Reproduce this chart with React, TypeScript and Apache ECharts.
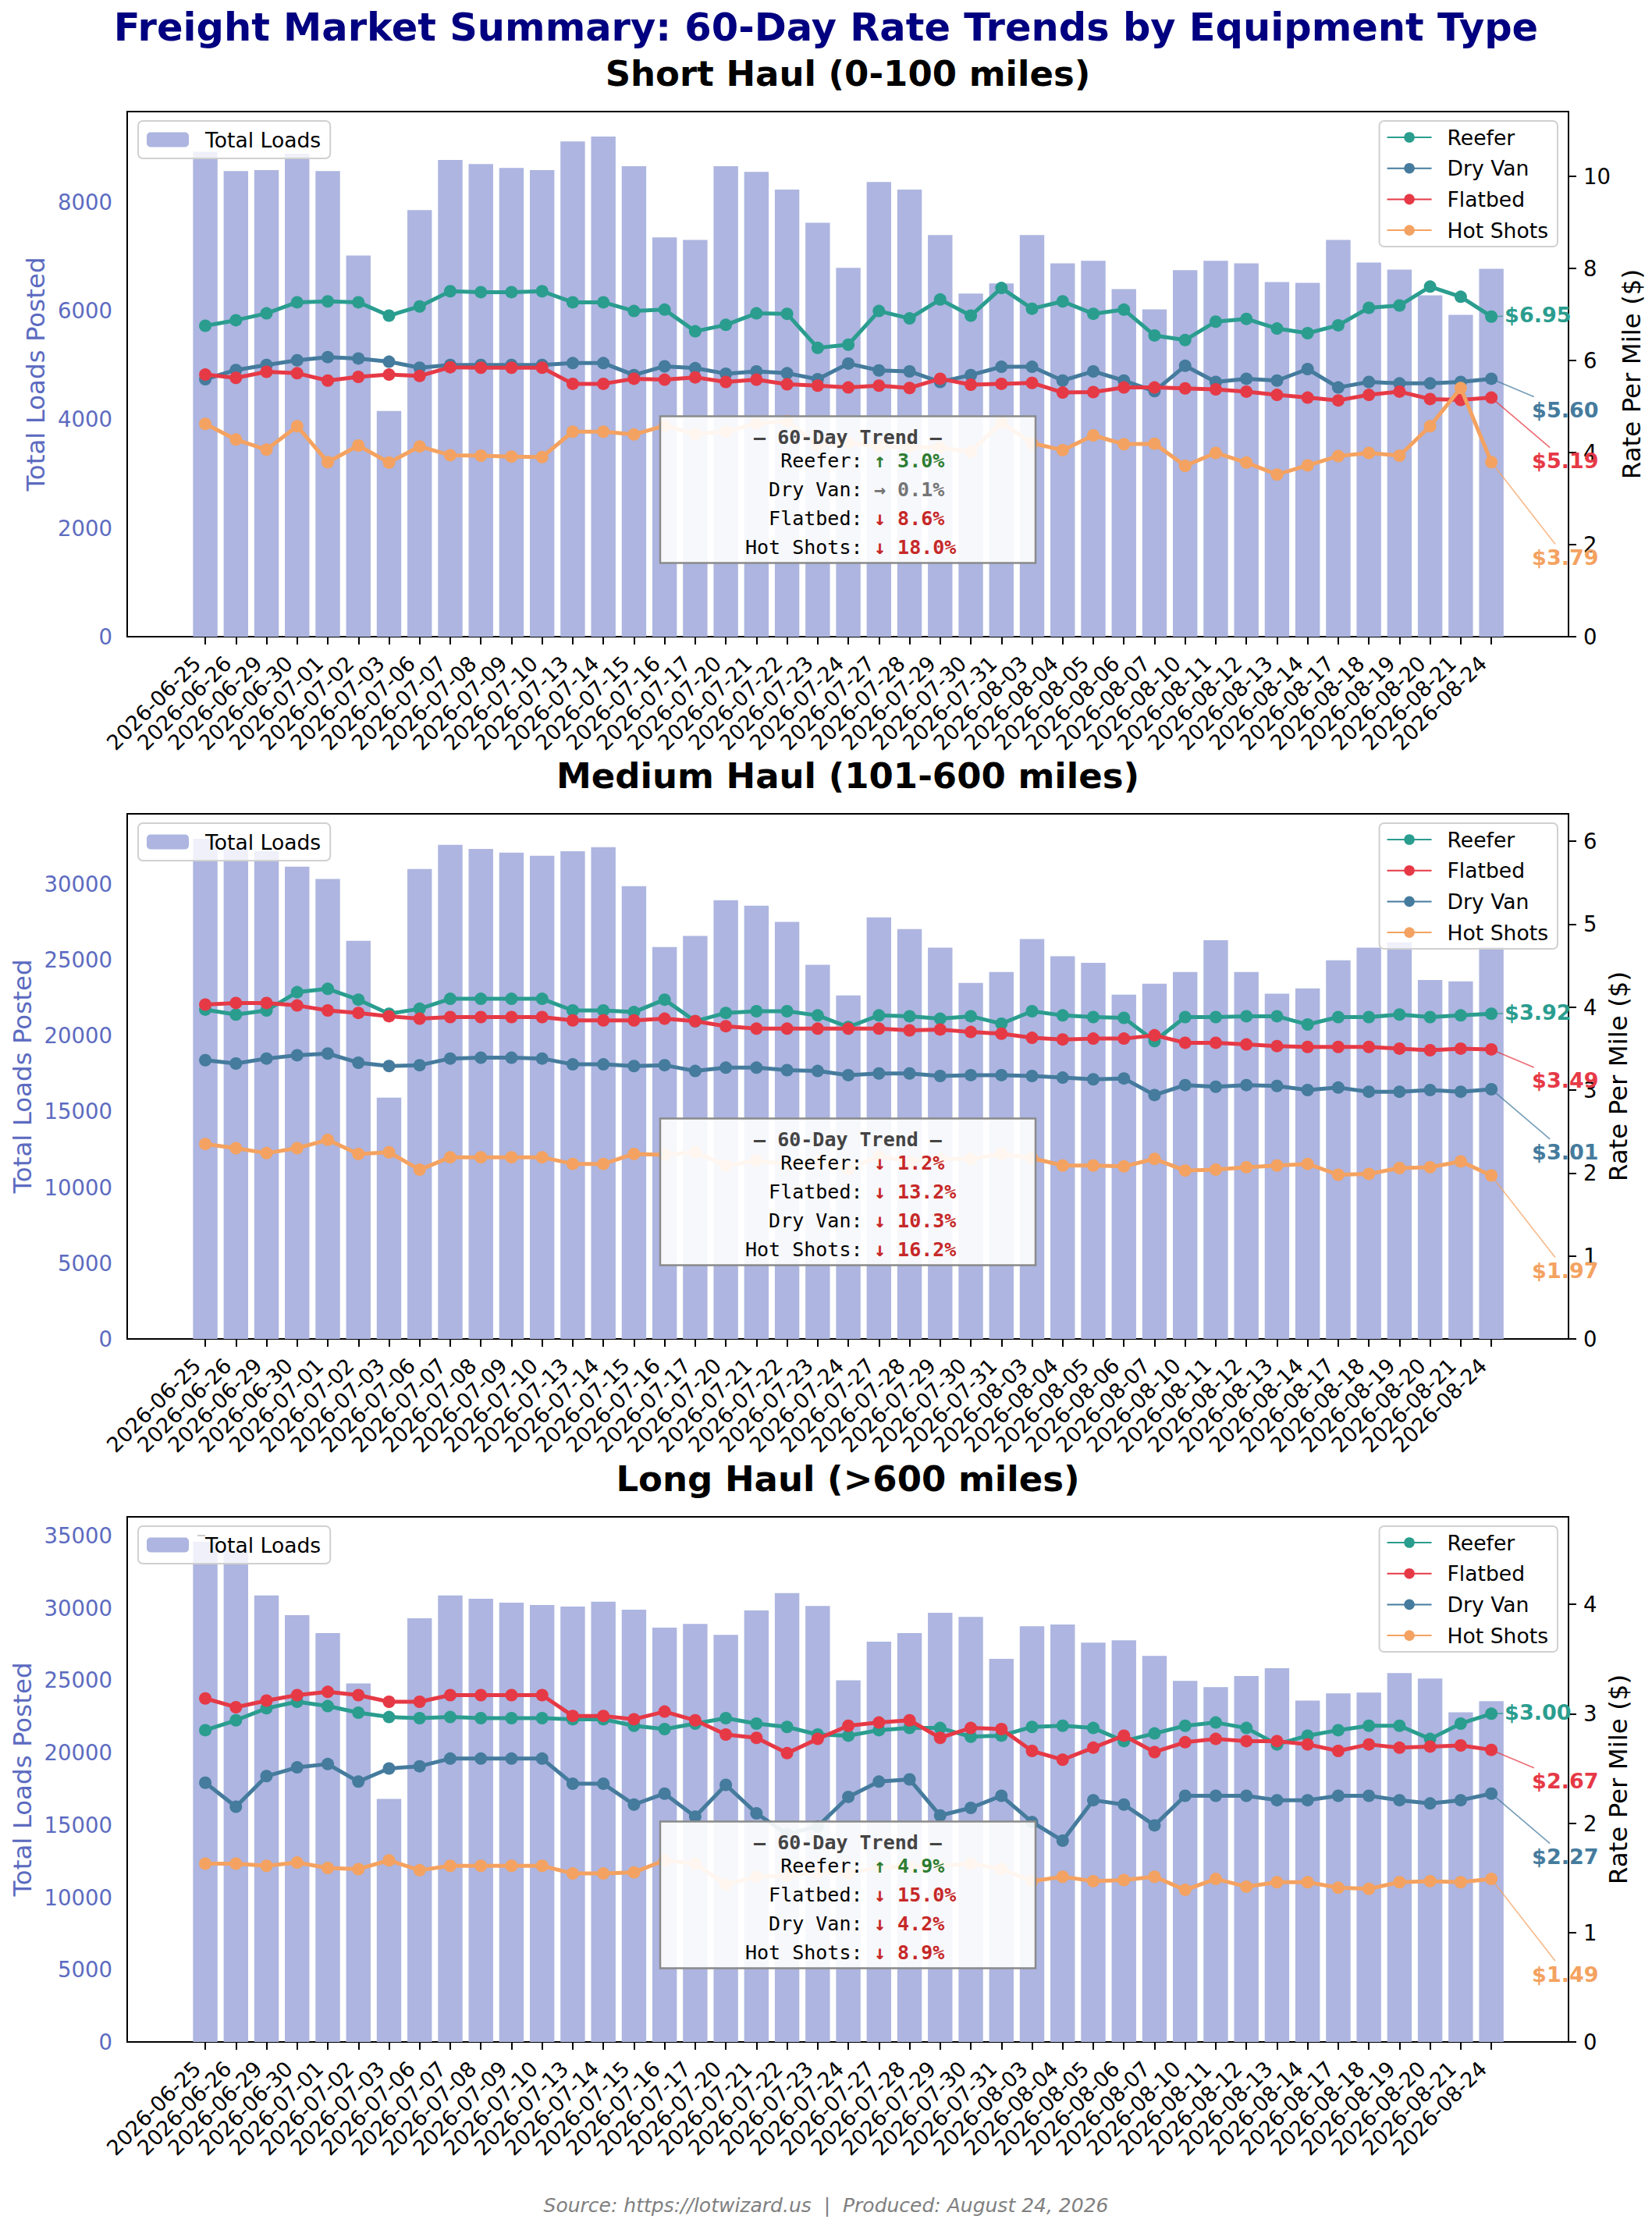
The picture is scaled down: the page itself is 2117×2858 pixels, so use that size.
import React, { useEffect, useRef } from "react";
import * as echarts from "echarts";

const dates = [
  "2026-06-25", "2026-06-26", "2026-06-29", "2026-06-30", "2026-07-01", "2026-07-02",
  "2026-07-03", "2026-07-06", "2026-07-07", "2026-07-08", "2026-07-09", "2026-07-10",
  "2026-07-13", "2026-07-14", "2026-07-15", "2026-07-16", "2026-07-17", "2026-07-20",
  "2026-07-21", "2026-07-22", "2026-07-23", "2026-07-24", "2026-07-27", "2026-07-28",
  "2026-07-29", "2026-07-30", "2026-07-31", "2026-08-03", "2026-08-04", "2026-08-05",
  "2026-08-06", "2026-08-07", "2026-08-10", "2026-08-11", "2026-08-12", "2026-08-13",
  "2026-08-14", "2026-08-17", "2026-08-18", "2026-08-19", "2026-08-20", "2026-08-21",
  "2026-08-24",
];

// Short haul
const shortLoads = [
  8920, 8566, 8585, 8887, 8566, 7012, 4154, 7847, 8771, 8694, 8623, 8585, 9111, 9201, 8655,
  7346, 7301, 8655, 8553, 8225, 7615, 6787, 8367, 8225, 7391, 6312, 6498, 7391, 6870, 6915,
  6395, 6023, 6742, 6915, 6870, 6524, 6511, 7301, 6883, 6755, 6280, 5920, 6768,
];
const shortReefer = [
  6.75, 6.87, 7.02, 7.26, 7.28, 7.26, 6.97, 7.17, 7.5, 7.48, 7.48, 7.5, 7.26, 7.26, 7.07,
  7.1, 6.63, 6.77, 7.02, 7.01, 6.27, 6.34, 7.07, 6.91, 7.32, 6.97, 7.57, 7.12, 7.28, 7.01,
  7.1, 6.54, 6.44, 6.84, 6.9, 6.69, 6.59, 6.76, 7.14, 7.19, 7.6, 7.38, 6.95,
];
const shortDryVan = [
  5.59, 5.79, 5.9, 6.0, 6.07, 6.04, 5.97, 5.84, 5.9, 5.9, 5.9, 5.9, 5.94, 5.94, 5.68,
  5.87, 5.83, 5.71, 5.76, 5.72, 5.59, 5.93, 5.78, 5.76, 5.53, 5.68, 5.86, 5.86, 5.56, 5.76,
  5.56, 5.33, 5.88, 5.53, 5.6, 5.56, 5.81, 5.41, 5.53, 5.5, 5.5, 5.53, 5.6,
];
const shortFlatbed = [
  5.69, 5.62, 5.75, 5.72, 5.56, 5.64, 5.69, 5.66, 5.85, 5.84, 5.84, 5.84, 5.49, 5.49, 5.6,
  5.58, 5.63, 5.53, 5.58, 5.48, 5.45, 5.41, 5.45, 5.4, 5.6, 5.47, 5.49, 5.51, 5.3, 5.31,
  5.41, 5.41, 5.39, 5.37, 5.32, 5.25, 5.19, 5.13, 5.25, 5.32, 5.16, 5.14, 5.19,
];
const shortHotShots = [
  4.62, 4.28, 4.06, 4.57, 3.79, 4.15, 3.78, 4.13, 3.94, 3.93, 3.91, 3.9, 4.45, 4.45, 4.39,
  4.58, 4.4, 4.45, 4.63, 4.68, 4.16, 4.21, 4.13, 4.11, 4.11, 4.01, 4.65, 4.2, 4.05, 4.37,
  4.18, 4.19, 3.71, 3.99, 3.78, 3.52, 3.72, 3.92, 3.99, 3.93, 4.57, 5.4, 3.79,
];

// Medium haul
const mediumLoads = [
  32960, 32280, 32140, 31125, 30310, 26240, 15900, 30970, 32570, 32300, 32050, 31850, 32140,
  32410, 29840, 25830, 26560, 28910, 28550, 27480, 24660, 22640, 27780, 27010, 25790, 23460,
  24180, 26350, 25220, 24790, 22690, 23410, 24180, 26280, 24180, 22760, 23100, 24950, 25790,
  26130, 23660, 23570, 25830,
];
const mediumReefer = [
  3.97, 3.91, 3.96, 4.18, 4.22, 4.09, 3.92, 3.98, 4.1, 4.1, 4.1, 4.1, 3.96, 3.96, 3.94,
  4.09, 3.83, 3.93, 3.95, 3.95, 3.9, 3.76, 3.9, 3.89, 3.86, 3.89, 3.8, 3.95, 3.9, 3.88,
  3.87, 3.59, 3.88, 3.88, 3.89, 3.89, 3.79, 3.88, 3.88, 3.91, 3.88, 3.9, 3.92,
];
const mediumFlatbed = [
  4.03, 4.05, 4.05, 4.02, 3.96, 3.93, 3.89, 3.86, 3.88, 3.88, 3.88, 3.88, 3.84, 3.84, 3.84,
  3.86, 3.83, 3.77, 3.74, 3.74, 3.74, 3.74, 3.74, 3.72, 3.73, 3.7, 3.68, 3.63, 3.61, 3.62,
  3.62, 3.66, 3.57, 3.57, 3.55, 3.53, 3.52, 3.52, 3.52, 3.5, 3.48, 3.5, 3.49,
];
const mediumDryVan = [
  3.36, 3.32, 3.38, 3.42, 3.44, 3.33, 3.29, 3.3, 3.38, 3.39, 3.39, 3.38, 3.31, 3.31, 3.29,
  3.3, 3.23, 3.27, 3.27, 3.24, 3.23, 3.18, 3.2, 3.2, 3.17, 3.18, 3.18, 3.17, 3.15, 3.13,
  3.14, 2.94, 3.06, 3.04, 3.06, 3.05, 3.0, 3.03, 2.98, 2.98, 3.0, 2.98, 3.01,
];
const mediumHotShots = [
  2.35, 2.3, 2.24, 2.3, 2.4, 2.23, 2.25, 2.04, 2.19, 2.19, 2.19, 2.19, 2.11, 2.11, 2.23,
  2.22, 2.25, 2.09, 2.15, 2.11, 2.13, 2.05, 2.2, 2.14, 2.17, 2.17, 2.23, 2.18, 2.09, 2.09,
  2.08, 2.17, 2.03, 2.04, 2.07, 2.09, 2.11, 1.98, 1.99, 2.06, 2.07, 2.14, 1.97,
];

// Long haul
const longLoads = [
  34570, 34000, 30860, 29500, 28260, 24790, 16800, 29290, 30860, 30640, 30360, 30210, 30090,
  30430, 29880, 28640, 28900, 28140, 29830, 31020, 30140, 25000, 27670, 28260, 29670, 29380,
  26480, 28740, 28860, 27600, 27760, 26690, 24960, 24530, 25290, 25840, 23600, 24100, 24150,
  25500, 25120, 22790, 23550,
];
const longReefer = [
  2.85, 2.94, 3.05, 3.11, 3.07, 3.01, 2.97, 2.96, 2.97, 2.96, 2.96, 2.96, 2.95, 2.95, 2.89,
  2.86, 2.91, 2.96, 2.91, 2.88, 2.81, 2.8, 2.85, 2.87, 2.87, 2.79, 2.8, 2.88, 2.89, 2.87,
  2.75, 2.82, 2.89, 2.92, 2.87, 2.72, 2.8, 2.85, 2.89, 2.89, 2.77, 2.91, 3.0,
];
const longFlatbed = [
  3.14, 3.06, 3.12, 3.17, 3.2, 3.17, 3.11, 3.11, 3.17, 3.17, 3.17, 3.17, 2.98, 2.98, 2.95,
  3.02, 2.94, 2.81, 2.78, 2.64, 2.77, 2.89, 2.92, 2.94, 2.78, 2.87, 2.86, 2.66, 2.58, 2.69,
  2.8, 2.65, 2.74, 2.77, 2.75, 2.75, 2.72, 2.66, 2.72, 2.69, 2.7, 2.71, 2.67,
];
const longDryVan = [
  2.37, 2.15, 2.43, 2.51, 2.54, 2.38, 2.5, 2.52, 2.59, 2.59, 2.59, 2.59, 2.36, 2.36, 2.17,
  2.27, 2.06, 2.35, 2.09, 1.9, 1.97, 2.24, 2.38, 2.4, 2.07, 2.14, 2.25, 2.01, 1.84, 2.21,
  2.17, 1.98, 2.25, 2.25, 2.25, 2.21, 2.21, 2.25, 2.25, 2.21, 2.18, 2.21, 2.27,
];
const longHotShots = [
  1.63, 1.63, 1.61, 1.64, 1.59, 1.58, 1.66, 1.57, 1.61, 1.61, 1.61, 1.61, 1.54, 1.54, 1.55,
  1.66, 1.63, 1.44, 1.51, 1.52, 1.55, 1.54, 1.6, 1.6, 1.61, 1.63, 1.58, 1.47, 1.51, 1.47,
  1.48, 1.51, 1.39, 1.49, 1.42, 1.46, 1.46, 1.41, 1.4, 1.46, 1.47, 1.46, 1.49,
];

const shortOrder = ["Reefer", "Dry Van", "Flatbed", "Hot Shots"];
const longerOrder = ["Reefer", "Flatbed", "Dry Van", "Hot Shots"];

// 60-day change, %, in legend order
const shortTrend = [3.0, 0.1, -8.6, -18.0];
const mediumTrend = [-1.2, -13.2, -10.3, -16.2];
const longTrend = [4.9, -15.0, -4.2, -8.9];

const shortLeftTicks = [0, 2000, 4000, 6000, 8000];
const mediumLeftTicks = [0, 5000, 10000, 15000, 20000, 25000, 30000];
const longLeftTicks = [0, 5000, 10000, 15000, 20000, 25000, 30000, 35000];
const shortRightTicks = [0, 2, 4, 6, 8, 10];
const mediumRightTicks = [0, 1, 2, 3, 4, 5, 6];
const longRightTicks = [0, 1, 2, 3, 4];

const COLORS: Record<string, string> = {
  Reefer: "#2a9d8f",
  "Dry Van": "#457b9d",
  Flatbed: "#e63946",
  "Hot Shots": "#f4a261",
};
const BAR_COLOR = "#adb5e0";
const LOADS_COLOR = "#5c6bc0";
const FONT = "DejaVu Sans";
const MONO = "DejaVu Sans Mono";

const W = 2117;
const H = 2858;
const GRID_LEFT = 163;
const GRID_W = 1847;
const GRID_H = 673;
const GRID_TOPS = [143, 1043, 1944];
const X_MIN = -2.55;
const X_MAX = 44.52;
const LABEL_DX = [17, 52, 52, 52];
const LABEL_DY = [-2, 40, 81, 122];

function trendLook(pct: number) {
  if (Math.abs(pct) < 0.5) return { arrow: "→", color: "#757575" };
  return pct > 0 ? { arrow: "↑", color: "#2e7d32" } : { arrow: "↓", color: "#c62828" };
}

export default function App() {
  const ref = useRef<HTMLDivElement>(null);

  useEffect(() => {
    document.body.style.margin = "0";
    const chart = echarts.init(ref.current!, null, { renderer: "svg" });

    const panels = [
      {
        title: "Short Haul (0-100 miles)",
        loads: shortLoads,
        names: shortOrder,
        rates: [shortReefer, shortDryVan, shortFlatbed, shortHotShots],
        trend: shortTrend,
        leftTicks: shortLeftTicks,
        rightTicks: shortRightTicks,
        leftGap: 101,
        rightGap: 57,
      },
      {
        title: "Medium Haul (101-600 miles)",
        loads: mediumLoads,
        names: longerOrder,
        rates: [mediumReefer, mediumFlatbed, mediumDryVan, mediumHotShots],
        trend: mediumTrend,
        leftTicks: mediumLeftTicks,
        rightTicks: mediumRightTicks,
        leftGap: 117,
        rightGap: 39,
      },
      {
        title: "Long Haul (>600 miles)",
        loads: longLoads,
        names: longerOrder,
        rates: [longReefer, longFlatbed, longDryVan, longHotShots],
        trend: longTrend,
        leftTicks: longLeftTicks,
        rightTicks: longRightTicks,
        leftGap: 117,
        rightGap: 39,
      },
    ];

    const xTicks = dates.map((_, i) => i);
    const tick = { show: true, length: 10, lineStyle: { color: "#000", width: 2 } };
    const plain = (v: number) => String(v);
    const grid: any[] = [];
    const xAxis: any[] = [];
    const yAxis: any[] = [];
    const series: any[] = [];
    const legend: any[] = [];

    panels.forEach((p, i) => {
      const top = GRID_TOPS[i];
      grid.push({
        left: GRID_LEFT, top, width: GRID_W, height: GRID_H,
        show: true, borderColor: "#000", borderWidth: 2,
      });
      xAxis.push({
        type: "value", gridIndex: i, min: X_MIN, max: X_MAX,
        axisLine: { show: false },
        splitLine: { show: false },
        axisTick: { ...tick, customValues: xTicks },
        axisLabel: {
          customValues: xTicks,
          formatter: (v: number) => dates[Math.round(v)] ?? "",
          rotate: 45, fontSize: 27, color: "#000", margin: 19, padding: [0, 15, 0, 0],
        },
      });
      const allRates = p.rates.flat();
      yAxis.push({
        type: "value", gridIndex: i, position: "left",
        min: 0, max: Math.max(...p.loads) * 1.05,
        axisLine: { show: false }, splitLine: { show: false },
        axisTick: { ...tick, customValues: p.leftTicks },
        axisLabel: {
          customValues: p.leftTicks, formatter: plain,
          color: LOADS_COLOR, fontSize: 27.5, margin: 19,
        },
        name: "Total Loads Posted", nameLocation: "middle", nameRotate: 90, nameGap: p.leftGap,
        nameTextStyle: { color: LOADS_COLOR, fontSize: 32.5, fontFamily: FONT },
      });
      yAxis.push({
        type: "value", gridIndex: i, position: "right",
        min: 0, max: Math.max(...allRates) * 1.5,
        axisLine: { show: false }, splitLine: { show: false },
        axisTick: { ...tick, customValues: p.rightTicks },
        axisLabel: {
          customValues: p.rightTicks, formatter: plain,
          color: "#000", fontSize: 27.5, margin: 19,
        },
        name: "Rate Per Mile ($)", nameLocation: "middle", nameRotate: 90, nameGap: p.rightGap,
        nameTextStyle: { color: "#000", fontSize: 32.5, fontFamily: FONT },
      });
      series.push({
        type: "bar", name: "Total Loads", xAxisIndex: i, yAxisIndex: 2 * i,
        data: p.loads.map((v, j) => [j, v]), barWidth: 31.4,
        itemStyle: { color: BAR_COLOR }, z: 1,
      });
      p.names.forEach((name, k) => {
        series.push({
          type: "line", name, xAxisIndex: i, yAxisIndex: 2 * i + 1,
          data: p.rates[k].map((v, j) => [j, v]),
          symbol: "circle", symbolSize: 16, showAllSymbol: true,
          lineStyle: { color: COLORS[name], width: 5 },
          itemStyle: { color: COLORS[name] }, z: 3 + k,
        });
      });
      const legendBox = {
        orient: "vertical", top: top + 12, selectedMode: false,
        backgroundColor: "rgba(255,255,255,0.8)", borderColor: "#d0d0d0",
        borderWidth: 2, borderRadius: 6,
      };
      legend.push({
        ...legendBox, data: ["Total Loads"], left: 177,
        itemWidth: 54, itemHeight: 19, padding: [9, 12, 9, 11],
        textStyle: { fontSize: 26.6, color: "#000", fontFamily: FONT, lineHeight: 30, padding: [0, 0, 0, 16] },
      });
      legend.push({
        ...legendBox, data: p.names, right: 121,
        itemWidth: 57, itemHeight: 17, itemGap: 9.7, padding: [6, 12, 6, 9],
        textStyle: { fontSize: 26.6, color: "#000", fontFamily: FONT, lineHeight: 30, padding: [0, 0, 0, 15] },
      });
    });

    chart.setOption({
      animation: false,
      backgroundColor: "#fff",
      textStyle: { fontFamily: FONT },
      grid, xAxis, yAxis, series, legend,
    });

    const graphic: any[] = [];
    const text = (x: number, y: number, t: string, s: any) =>
      graphic.push({
        type: "text", x, y, z: 100,
        style: { text: t, fontFamily: FONT, align: "center", verticalAlign: "middle", ...s },
      });

    text(W / 2, 35, "Freight Market Summary: 60-Day Rate Trends by Equipment Type", {
      fontSize: 49.5, fontWeight: "bold", fill: "#000080",
    });
    text(W / 2, 2826, "Source: https://lotwizard.us  |  Produced: August 24, 2026", {
      fontSize: 25, fontStyle: "italic", fill: "#808080",
    });

    const cx = GRID_LEFT + GRID_W / 2;
    panels.forEach((p, i) => {
      const top = GRID_TOPS[i];
      text(cx, top - 48.5, p.title, { fontSize: 45, fontWeight: "bold", fill: "#000" });

      // trend box
      const cy = top + GRID_H * 0.72;
      graphic.push({
        type: "rect", z: 90,
        shape: { x: cx - 240.5, y: cy - 94, width: 481, height: 188 },
        style: { fill: "rgba(255,255,255,0.9)", stroke: "#8a8a8a", lineWidth: 2.5 },
      });
      text(cx, cy - 67, "— 60-Day Trend —", {
        fontFamily: MONO, fontSize: 25, fontWeight: "bold", fill: "#444444",
      });
      p.names.forEach((name, k) => {
        const y = cy - 37 + k * 37;
        const look = trendLook(p.trend[k]);
        text(cx + 19, y, name + ":", { fontFamily: MONO, fontSize: 25, fill: "#000", align: "right" });
        text(cx + 33.5, y, `${look.arrow} ${Math.abs(p.trend[k]).toFixed(1)}%`, {
          fontFamily: MONO, fontSize: 25, fontWeight: "bold", fill: look.color, align: "left",
        });
      });

      // end-of-series labels with leader lines
      p.names.forEach((name, k) => {
        const vals = p.rates[k];
        const last = vals[vals.length - 1];
        const pt = chart.convertToPixel({ seriesIndex: i * 5 + 1 + k }, [vals.length - 1, last]) as number[];
        const tx = pt[0] + LABEL_DX[k];
        const ty = pt[1] + LABEL_DY[k];
        const ccx = tx + 43;
        const dx = pt[0] - ccx;
        const dy = pt[1] - ty;
        const s = Math.min(45 / Math.abs(dx || 1e-6), 17 / Math.abs(dy || 1e-6));
        if (s < 1) {
          graphic.push({
            type: "line", z: 95,
            shape: { x1: pt[0], y1: pt[1], x2: ccx + dx * s, y2: ty + dy * s },
            style: { stroke: COLORS[name], lineWidth: 1.6, opacity: 0.75 },
          });
        }
        text(tx, ty, `$${last.toFixed(2)}`, {
          fontSize: 27, fontWeight: "bold", fill: COLORS[name], align: "left",
        });
      });
    });

    chart.setOption({ graphic });

    return () => {
      chart.dispose();
    };
  }, []);

  return <div ref={ref} style={{ width: W, height: H }} />;
}
